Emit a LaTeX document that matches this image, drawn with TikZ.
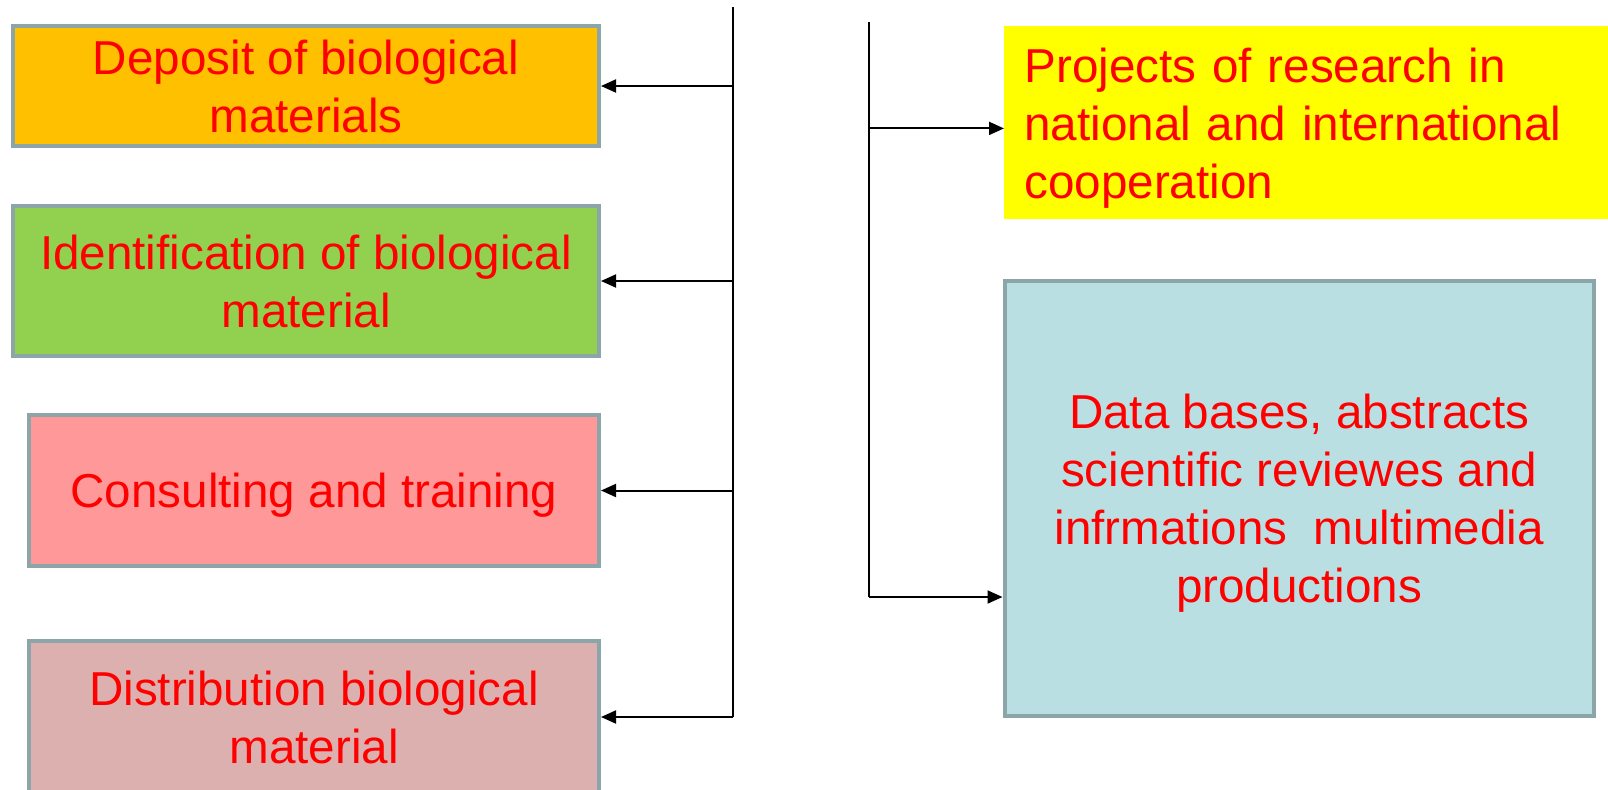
\documentclass[tikz,border=0pt]{standalone}
\usepackage{fontspec}
\setmainfont{Liberation Sans}
\usetikzlibrary{arrows.meta,calc}
\definecolor{bord}{HTML}{8CA5A8}
\definecolor{cOrange}{HTML}{FFC000}
\definecolor{cGreen}{HTML}{92D050}
\definecolor{cPink}{HTML}{FF9999}
\definecolor{cDist}{HTML}{DDB0B0}
\definecolor{cBlue}{HTML}{BADFE2}
\definecolor{cYellow}{HTML}{FFFF00}
\begin{document}
\begin{tikzpicture}[x=0.5pt,y=-0.5pt,
  txtbase/.style={text=red,font=\fontsize{23.8}{29}\selectfont},
  txt/.style={txtbase,text depth=0pt},
  box/.style={txt,draw=bord,line width=2pt,align=center,inner sep=0pt},
  arr/.style={line width=1pt,-{Triangle[length=7.5pt,width=6.5pt]}},
  trunk/.style={line width=1pt}]
\useasboundingbox (0,0) rectangle (1608,789);
% left boxes
\node[box,fill=cOrange,minimum width=293pt,minimum height=60pt] (b1) at (306,86) {Deposit of biological\\materials};
\node[box,fill=cGreen,minimum width=293pt,minimum height=75pt] (b2) at (306,281) {Identification of biological\\material};
\node[box,fill=cPink,minimum width=285pt,minimum height=75.5pt] (b3) at (314,490.5) {Consulting and training};
\node[box,fill=cDist,minimum width=285pt,minimum height=76pt] (b4) at (314,717) {Distribution biological\\material};
% right boxes
\node[txtbase,fill=cYellow,anchor=north west,minimum height=96.5pt,text width=292pt,inner xsep=10pt,inner ysep=0pt,align=left,text height=17.5pt,text depth=58pt] (yel) at (1004,26) {Projects of research in\\national and international\\cooperation};
\node[box,fill=cBlue,minimum width=294.75pt,minimum height=217.5pt] (blue) at (1299.25,498.5) {Data bases, abstracts\\scientific reviewes and\\infrmations~ multimedia\\productions};
% left trunk
\coordinate (ltop) at (733,7);
\coordinate (lbot) at (ltop |- b4.east);
\draw[trunk] (ltop) -- (lbot);
\draw[arr] (ltop |- b1.east) -- (b1.east);
\draw[arr] (ltop |- b2.east) -- (b2.east);
\draw[arr] (ltop |- b3.east) -- (b3.east);
\draw[arr] (lbot) -- (b4.east);
% right trunk
\coordinate (yin) at ([yshift=-2.75pt]yel.west);
\coordinate (bin) at ([yshift=-49.25pt]blue.west);
\coordinate (rtop) at (869,22);
\coordinate (rbot) at (rtop |- bin);
\draw[trunk] (rtop) -- (rbot);
\draw[arr] (rtop |- yin) -- (yin);
\draw[arr] (rbot) -- (bin);
\end{tikzpicture}
\end{document}
